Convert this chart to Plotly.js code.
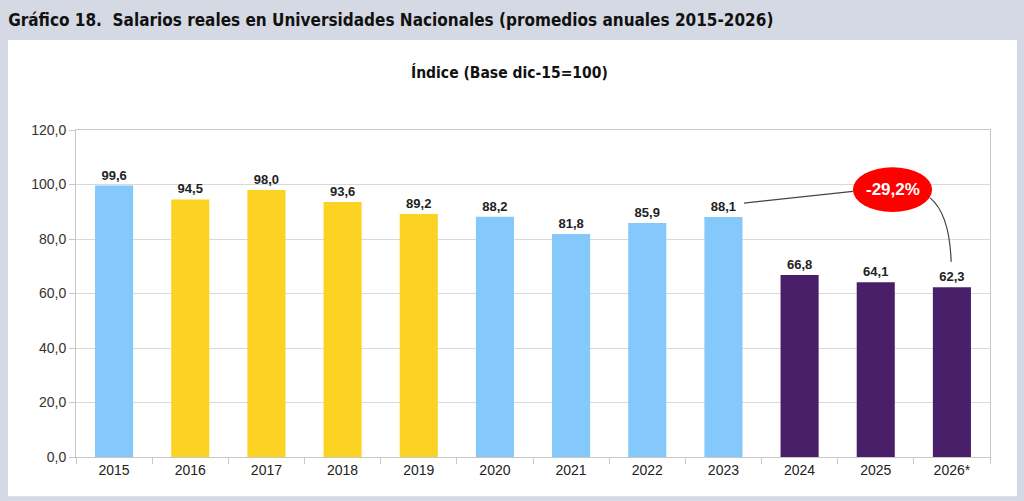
<!DOCTYPE html>
<html>
<head>
<meta charset="utf-8">
<script src="https://cdn.plot.ly/plotly-3.0.1.min.js"></script>
<style>
  html, body { margin: 0; padding: 0; background: #d5d9e4; }
  #chart { width: 1024px; height: 501px; }
</style>
</head>
<body>
<div id="chart"></div>
<script>
// indice de salario real, base dic-15 = 100
const anios = ['2015', '2016', '2017', '2018', '2019', '2020', '2021', '2022', '2023', '2024', '2025', '2026*']
const indice = [99.6, 94.5, 98.0, 93.6, 89.2, 88.2, 81.8, 85.9, 88.1, 66.8, 64.1, 62.3]
const periodo = ['A', 'B', 'B', 'B', 'B', 'A', 'A', 'A', 'A', 'C', 'C', 'C']
const variacion = '-29,2%'

const coloresPeriodo = { A: '#85c8fb', B: '#fcd223', C: '#4a1f6a' }

const i23 = anios.indexOf('2023')
const i26 = anios.indexOf('2026*')
const v23 = indice[i23]
const v26 = indice[i26]

// burbuja roja entre 2023 y 2026
const cx = i26 - 0.78
const cy = v23 + 10
const rx = 0.52, ry = 8.2

const barras = {
    x: anios,
    y: indice,
    type: 'bar',
    marker: { color: periodo.map(p => coloresPeriodo[p]) },
    texttemplate: '%{y:.1f}',
    textposition: 'outside',
    textfont: { family: 'Liberation Sans, Arial, sans-serif', size: 13, color: '#222', weight: 'bold' },
    cliponaxis: false,
    hoverinfo: 'none'
}

const gris = '#d9d9d9'

const layout = {
    width: 1024,
    height: 501,
    margin: { l: 76, r: 34, t: 130, b: 44 },
    paper_bgcolor: '#d5d9e4',
    plot_bgcolor: 'rgba(0,0,0,0)',
    separators: ',.',
    bargap: 0.5,
    showlegend: false,
    font: { family: 'Liberation Sans, Arial, sans-serif', color: '#333' },
    title: {
        text: 'Gráfico 18.  Salarios reales en Universidades Nacionales (promedios anuales 2015-2026)',
        font: { family: 'DejaVu Sans Condensed, sans-serif', size: 17, color: '#111', weight: 'bold' },
        xref: 'container', yref: 'container',
        x: 0.008, xanchor: 'left',
        y: 1 - 20 / 501, yanchor: 'middle'
    },
    xaxis: {
        type: 'category',
        showgrid: false,
        showline: true, linecolor: '#c8c8c8', mirror: true,
        ticks: 'outside', tickson: 'boundaries', ticklen: 6, tickcolor: '#c8c8c8',
        tickfont: { size: 14, color: '#222' }
    },
    yaxis: {
        range: [0, 120],
        dtick: 20,
        tickformat: '.1f',
        showgrid: true, gridcolor: gris,
        showline: true, linecolor: '#c8c8c8', mirror: true,
        zeroline: false,
        ticks: 'outside', ticklen: 6, tickcolor: '#c8c8c8',
        tickfont: { size: 14, color: '#333' }
    },
    shapes: [
        // panel blanco
        { type: 'rect', xref: 'paper', yref: 'paper', layer: 'below',
          x0: -0.0744, x1: 1.0295, y0: -0.1203, y1: 1.2755,
          fillcolor: '#ffffff', line: { width: 0 } },
        // conector 2023 -> burbuja
        { type: 'line', xref: 'x', yref: 'y',
          x0: i23 + 0.27, y0: v23 + 5.1, x1: cx - rx, y1: cy - 0.6,
          line: { color: '#444', width: 1.2 } },
        // conector burbuja -> 2026
        { type: 'path', xref: 'x', yref: 'y',
          path: `M ${cx + rx * 0.95},${cy - 3} Q ${i26 - 0.03},${cy - 9} ${i26 - 0.01},${v26 + 9.3}`,
          line: { color: '#444', width: 1.2 } },
        // burbuja
        { type: 'circle', xref: 'x', yref: 'y',
          x0: cx - rx, x1: cx + rx, y0: cy - ry, y1: cy + ry,
          fillcolor: '#ff0000', line: { width: 0 } }
    ],
    annotations: [
        { text: 'Índice (Base dic-15=100)', xref: 'paper', yref: 'paper',
          x: 0.4745, y: 1.175, xanchor: 'center', yanchor: 'middle', showarrow: false,
          font: { family: 'DejaVu Sans Condensed, sans-serif', size: 15.5, color: '#111', weight: 'bold' } },
        { text: variacion, xref: 'x', yref: 'y', x: cx, y: cy,
          showarrow: false, xanchor: 'center', yanchor: 'middle',
          font: { family: 'Liberation Sans, Arial, sans-serif', size: 17, color: '#ffffff', weight: 'bold' } }
    ]
}

Plotly.newPlot('chart', [barras], layout, { displayModeBar: false, staticPlot: true })
</script>
</body>
</html>
